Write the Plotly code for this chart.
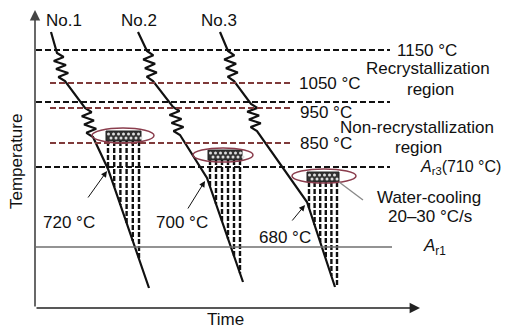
import plotly.graph_objects as go

# ---------------- data (schematic values) ----------------
schedules = ["No.1", "No.2", "No.3"]
finish_temps = [720, 700, 680]          # finish-rolling temperatures (°C)
ref_temps = [1150, 1050, 950, 850]      # reference temperature levels (°C)
ar3_temp = 710
cooling_rate = "20–30"
region_labels = ["Recrystallization", "region", "Non-recrystallization", "region"]
axis_labels = ["Time", "Temperature"]

# ---------------- schematic geometry (pixel frame) ----------------
W, H = 509, 328
PAD = 8          # default page margin of the html body
FONT = "Liberation Sans, Arial, sans-serif"
FS = 17
BLACK = "#111111"
RED = "#7f3a3a"

level_y = {1150: 50, 1050: 83, 950: 108, 850: 143}
level_950_upper = 102
ar3_y = 167
ar1_y = 247

# main paths: start, zig1 (start,end), zig2 (start,end), knee, end
paths = [
    dict(start=(51, 32), z1=((57, 53), (65, 81)), z2=((85, 108), (93, 137)), knee=(108, 169), end=(149, 288)),
    dict(start=(138, 32), z1=((147, 51), (153, 81)), z2=((173, 107), (180, 135)), knee=(207, 178), end=(243, 282)),
    dict(start=(220, 32), z1=((228, 51), (234, 81)), z2=((251, 104), (257, 131)), knee=(307, 202), end=(335, 287)),
]
ellipses = [(92, 154, 128, 143), (193, 253, 148, 162), (292, 356, 169, 183)]
rects = [(106, 141, 131, 141), (208, 242, 150, 160), (307, 339, 172, 182)]
label_pos_no = [64, 139, 219]
finish_label_pos = [(69, 222), (182, 222), (285, 237)]
finish_arrow_tail = [(87, 199), (187, 210), (291, 222)]
finish_arrow_head = [(107, 171), (205, 181), (305, 205)]


def zigzag(p0, p1, n=7, amp=5.5):
    pts = [p0]
    for i in range(1, n):
        t = i / n
        bx = p0[0] + t * (p1[0] - p0[0])
        by = p0[1] + t * (p1[1] - p0[1])
        pts.append((bx + (amp if i % 2 else -amp), by))
    pts.append(p1)
    return pts


def y_on_path(pts, x):
    for (xa, ya), (xb, yb) in zip(pts[:-1], pts[1:]):
        if min(xa, xb) <= x <= max(xa, xb) and xb != xa:
            return ya + (x - xa) * (yb - ya) / (xb - xa)
    return pts[-1][1]


fig = go.Figure()
shapes = []
annotations = []


def hline(y, x0, x1, color, dash, width=1.8):
    shapes.append(dict(type="line", x0=x0, x1=x1, y0=y, y1=y, xref="x", yref="y",
                       line=dict(color=color, width=width, dash=dash)))

hline(level_y[1150], 36, 390, BLACK, "6px,3px")
hline(level_y[1050], 50, 293, RED, "6px,3px")
hline(level_950_upper, 36, 390, BLACK, "6px,3px")
hline(level_y[950], 50, 293, RED, "6px,3px")
hline(level_y[850], 50, 293, RED, "6px,3px")
hline(ar3_y, 36, 390, BLACK, "6px,3px")
hline(ar1_y, 36, 392, "#6f6f6f", "solid", 1.4)

for (ex0, ex1, ey0, ey1) in ellipses:
    shapes.append(dict(type="circle", x0=ex0, x1=ex1, y0=ey0, y1=ey1, xref="x", yref="y",
                       line=dict(color="#8a3d4d", width=1.5), fillcolor="rgba(0,0,0,0)"))

for k, p in enumerate(paths):
    main = [p["start"]] + zigzag(*p["z1"]) + zigzag(*p["z2"]) + [p["knee"], p["end"]]
    lower = [p["z2"][1], p["knee"], p["end"]]
    rx0, rx1, ry0, ry1 = rects[k]
    n = 6
    for i in range(n):
        x = rx0 + 2 + i * (rx1 - rx0 - 4) / (n - 1)
        yend = y_on_path(lower, x)
        if yend is None or yend < ry1:
            yend = ry1 + 5
        yend = min(yend, p["end"][1])
        fig.add_trace(go.Scatter(x=[x, x], y=[ry1, yend], mode="lines",
                                 line=dict(color=BLACK, width=2.4, dash="5px,2px"),
                                 hoverinfo="skip"))
    shapes.append(dict(type="rect", x0=rx0, x1=rx1, y0=ry0, y1=ry1, xref="x", yref="y",
                       line=dict(color="#222222", width=1), fillcolor="#333333", layer="below"))
    dx, dy = [], []
    xx = rx0 + 2.5
    while xx < rx1 - 1:
        for yy in (ry0 + 3, ry0 + 7):
            dx.append(xx + (2.5 if yy > ry0 + 5 else 0))
            dy.append(yy)
        xx += 5
    fig.add_trace(go.Scatter(x=dx, y=dy, mode="markers",
                             marker=dict(color="#dddddd", size=3, line=dict(width=0)),
                             hoverinfo="skip"))
    fig.add_trace(go.Scatter(x=[q[0] for q in main], y=[q[1] for q in main], mode="lines",
                             line=dict(color=BLACK, width=2.2), hoverinfo="skip"))

shapes.append(dict(type="line", x0=339, y0=182, x1=363, y1=200, xref="x", yref="y",
                   line=dict(color="#888888", width=1.3)))


def text(x, y, s, xanchor="center", size=FS, angle=0):
    annotations.append(dict(x=x, y=y, xref="x", yref="y", text=s, showarrow=False,
                            xanchor=xanchor, yanchor="middle", textangle=angle,
                            font=dict(family=FONT, size=size, color=BLACK)))

for name, xp in zip(schedules, label_pos_no):
    text(xp, 20, name)

text(395, level_y[1150], f"{ref_temps[0]} °C", "left")
text(297, level_y[1050], f"{ref_temps[1]} °C", "left")
text(298, 112, f"{ref_temps[2]} °C", "left")
text(298, level_y[850], f"{ref_temps[3]} °C", "left")
text(428, 68, region_labels[0])
text(430, 89, region_labels[1])
text(417, 127, region_labels[2])
text(418, 147, region_labels[3])
text(418, ar3_y, f"<i>A</i><sub>r3</sub>({ar3_temp} °C)", "left", size=16)
text(429, 197, "Water-cooling")
text(430, 216, f"{cooling_rate} °C/s")
text(421, ar1_y, "<i>A</i><sub>r1</sub>", "left")

for t, (lx, ly), (tx, ty), (hx, hy) in zip(finish_temps, finish_label_pos, finish_arrow_tail, finish_arrow_head):
    text(lx, ly, f"{t} °C")
    annotations.append(dict(x=hx, y=hy, ax=tx, ay=ty, xref="x", yref="y", axref="x", ayref="y",
                            text="", showarrow=True, arrowhead=2, arrowsize=1.2,
                            arrowwidth=1, arrowcolor=BLACK))

annotations.append(dict(x=420, y=308, ax=35, ay=308, xref="x", yref="y", axref="x", ayref="y",
                        text="", showarrow=True, arrowhead=2, arrowsize=1.3, arrowwidth=1.6,
                        arrowcolor="#222222"))
annotations.append(dict(x=35, y=10, ax=35, ay=308, xref="x", yref="y", axref="x", ayref="y",
                        text="", showarrow=True, arrowhead=2, arrowsize=1.3, arrowwidth=1.6,
                        arrowcolor="#444444"))
text(225, 319, axis_labels[0])
text(16, 162, axis_labels[1], angle=-90)

fig.update_layout(
    width=W - PAD, height=H - PAD, margin=dict(l=0, r=0, t=0, b=0),
    paper_bgcolor="white", plot_bgcolor="white", showlegend=False,
    xaxis=dict(range=[PAD, W], visible=False, fixedrange=True),
    yaxis=dict(range=[H, PAD], visible=False, fixedrange=True),
    shapes=shapes, annotations=annotations,
)

fig.write_html("out.html")
